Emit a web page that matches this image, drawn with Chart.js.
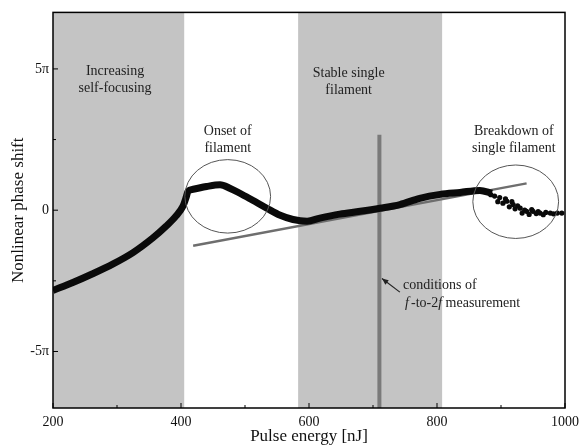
<!DOCTYPE html>
<html lang="en">
<head>
<meta charset="UTF-8">
<title>Nonlinear phase shift vs pulse energy</title>
<script src="https://cdn.jsdelivr.net/npm/chart.js"></script>
<style>
  html, body { margin: 0; padding: 0; background: #fff; }
  #wrap { width: 579px; height: 448px; }
</style>
</head>
<body>
<div id="wrap"><canvas id="phaseChart"></canvas></div>
<script>
// measured data (pulse energy in nJ, phase in units of pi)
const energy = [200, 231, 262, 294, 325, 356, 377, 392, 403, 408, 411, 419, 440, 461, 477, 492, 512, 534, 555, 575, 597, 617, 648, 680, 711, 742, 773, 805, 836, 867, 886];
const phase  = [-2.84, -2.56, -2.25, -1.9, -1.5, -0.98, -0.56, -0.21, 0.14, 0.45, 0.67, 0.74, 0.84, 0.9, 0.77, 0.6, 0.35, 0.07, -0.18, -0.33, -0.39, -0.28, -0.14, -0.04, 0.07, 0.2, 0.42, 0.56, 0.63, 0.7, 0.6];
// breakdown region, scattered points
const breakEnergy = [884, 890, 895, 898, 903, 907, 909, 913, 917, 919, 922, 926, 930, 933, 937, 940, 944, 948, 950, 955, 958, 961, 966, 970, 977, 982, 988, 995];
const breakPhase  = [0.55, 0.5, 0.3, 0.45, 0.25, 0.4, 0.32, 0.12, 0.3, 0.2, 0.05, 0.15, 0.07, -0.1, 0.0, -0.04, -0.15, 0.02, -0.04, -0.12, -0.05, -0.1, -0.16, -0.08, -0.1, -0.13, -0.1, -0.1];
// linear fit
const fitEnergy = [419, 940];
const fitPhase  = [-1.26, 0.95];
// f-to-2f measurement marker
const markerEnergy = 710;
const markerTop = 2.67;
// shaded regimes
const bandStart = [200, 583];
const bandEnd   = [405, 808];
// ellipses: centre x, centre y, radius x, radius y
const ellipseX  = [473, 923];
const ellipseY  = [0.49, 0.3];
const ellipseRX = [67, 67];
const ellipseRY = [1.3, 1.3];
// tick labels
const xTicks = [200, 400, 600, 800, 1000];
const yTicks = [-5, 0, 5];
const yTickLabels = {'-5': '-5\u03c0', '0': '0', '5': '5\u03c0'};
// annotations
const notes = [
  {x: 297, y: 4.9, lines: ['Increasing', 'self-focusing']},
  {x: 662, y: 4.85, lines: ['Stable single', 'filament']},
  {x: 473, y: 2.8, lines: ['Onset of', 'filament']},
  {x: 920, y: 2.8, lines: ['Breakdown of', 'single filament']}
];

const serif = '"Liberation Serif", "DejaVu Serif", serif';

const decorations = {
  id: 'decorations',
  beforeDatasetsDraw(chart) {
    const {ctx, chartArea: a, scales: {x, y}} = chart;
    ctx.save();
    ctx.fillStyle = '#c4c4c4';
    for (let i = 0; i < bandStart.length; i++) {
      const x0 = x.getPixelForValue(bandStart[i]);
      const x1 = x.getPixelForValue(bandEnd[i]);
      ctx.fillRect(x0, a.top, x1 - x0, a.bottom - a.top);
    }
    // f-to-2f marker line
    ctx.strokeStyle = '#7a7a7a';
    ctx.lineWidth = 4;
    ctx.beginPath();
    ctx.moveTo(x.getPixelForValue(markerEnergy), y.getPixelForValue(markerTop));
    ctx.lineTo(x.getPixelForValue(markerEnergy), a.bottom);
    ctx.stroke();
    ctx.restore();
  },
  afterDatasetsDraw(chart) {
    const {ctx, chartArea: a, scales: {x, y}} = chart;
    ctx.save();
    // ellipses
    ctx.strokeStyle = '#555';
    ctx.lineWidth = 1;
    for (let i = 0; i < ellipseX.length; i++) {
      const cx = x.getPixelForValue(ellipseX[i]);
      const cy = y.getPixelForValue(ellipseY[i]);
      const rx = x.getPixelForValue(ellipseX[i] + ellipseRX[i]) - cx;
      const ry = cy - y.getPixelForValue(ellipseY[i] + ellipseRY[i]);
      ctx.beginPath();
      ctx.ellipse(cx, cy, rx, ry, 0, 0, Math.PI * 2);
      ctx.stroke();
    }
    // text notes
    ctx.fillStyle = '#222';
    ctx.font = '14px ' + serif;
    ctx.textAlign = 'center';
    ctx.textBaseline = 'middle';
    notes.forEach(n => {
      const px = x.getPixelForValue(n.x);
      const py = y.getPixelForValue(n.y);
      n.lines.forEach((t, j) => ctx.fillText(t, px, py + j * 17));
    });
    // f-to-2f note with arrow
    ctx.textAlign = 'left';
    const tx = x.getPixelForValue(747);
    const ty = y.getPixelForValue(-2.67);
    ctx.fillText('conditions of', tx, ty);
    ctx.font = 'italic 14px ' + serif;
    ctx.fillText('f', tx + 2, ty + 18);
    let w = ctx.measureText('f').width + 2;
    ctx.font = '14px ' + serif;
    ctx.fillText('-to-2', tx + 2 + w, ty + 18);
    w += ctx.measureText('-to-2').width;
    ctx.font = 'italic 14px ' + serif;
    ctx.fillText('f', tx + 2 + w, ty + 18);
    w += ctx.measureText('f').width;
    ctx.font = '14px ' + serif;
    ctx.fillText(' measurement', tx + 2 + w, ty + 18);
    const hx = x.getPixelForValue(714), hy = y.getPixelForValue(-2.42);
    const ex = x.getPixelForValue(742), ey = y.getPixelForValue(-2.9);
    ctx.strokeStyle = '#222';
    ctx.lineWidth = 1.2;
    ctx.beginPath();
    ctx.moveTo(ex, ey);
    ctx.lineTo(hx, hy);
    ctx.stroke();
    const ang = Math.atan2(hy - ey, hx - ex);
    ctx.beginPath();
    ctx.moveTo(hx, hy);
    ctx.lineTo(hx - 7 * Math.cos(ang - 0.4), hy - 7 * Math.sin(ang - 0.4));
    ctx.lineTo(hx - 7 * Math.cos(ang + 0.4), hy - 7 * Math.sin(ang + 0.4));
    ctx.closePath();
    ctx.fill();
    // frame and inward ticks
    ctx.strokeStyle = '#000';
    ctx.lineWidth = 1.5;
    ctx.strokeRect(a.left, a.top, a.right - a.left, a.bottom - a.top);
    ctx.lineWidth = 1;
    ctx.beginPath();
    for (let v = 200; v <= 1000; v += 100) {
      const px = x.getPixelForValue(v);
      const len = v % 200 === 0 ? 5 : 3;
      ctx.moveTo(px, a.bottom); ctx.lineTo(px, a.bottom - len);
    }
    for (let v = -5; v <= 5; v += 2.5) {
      const py = y.getPixelForValue(v);
      const len = v % 5 === 0 ? 5 : 3;
      ctx.moveTo(a.left, py); ctx.lineTo(a.left + len, py);
    }
    ctx.stroke();
    ctx.restore();
  }
};

new Chart(document.getElementById('phaseChart'), {
  type: 'line',
  data: {
    datasets: [
      {
        data: energy.map((e, i) => ({x: e, y: phase[i]})),
        borderColor: '#0a0a0a',
        borderWidth: 7,
        cubicInterpolationMode: 'monotone',
        pointRadius: 0,
        fill: false
      },
      {
        data: breakEnergy.map((e, i) => ({x: e, y: breakPhase[i]})),
        showLine: false,
        pointRadius: 2.6,
        pointBackgroundColor: '#0a0a0a',
        pointBorderWidth: 0
      },
      {
        data: fitEnergy.map((e, i) => ({x: e, y: fitPhase[i]})),
        borderColor: '#6e6e6e',
        borderWidth: 2.5,
        pointRadius: 0
      }
    ]
  },
  options: {
    responsive: true,
    maintainAspectRatio: false,
    animation: false,
    layout: {padding: {top: 10, right: 0, left: 0, bottom: 0}},
    plugins: {legend: {display: false}, tooltip: {enabled: false}},
    scales: {
      x: {
        type: 'linear',
        min: 200, max: 1000,
        afterBuildTicks: s => { s.ticks = xTicks.map(v => ({value: v})); },
        afterFit: s => { s.height = 40; s.paddingRight = 14; s.paddingLeft = 0; },
        grid: {display: false, drawTicks: false},
        border: {display: false},
        ticks: {color: '#111', padding: 6, maxRotation: 0, font: {family: serif, size: 14}, callback: v => String(v)},
        title: {display: true, text: 'Pulse energy [nJ]', color: '#111', padding: {top: 0, bottom: 1}, font: {family: serif, size: 17}}
      },
      y: {
        type: 'linear',
        min: -7, max: 7,
        afterBuildTicks: s => { s.ticks = yTicks.map(v => ({value: v})); },
        afterFit: s => { s.width = 53; },
        grid: {display: false, drawTicks: false},
        border: {display: false},
        ticks: {color: '#111', padding: 4, font: {family: serif, size: 14}, callback: v => yTickLabels[String(v)]},
        title: {display: true, text: 'Nonlinear phase shift', color: '#111', padding: {top: 8, bottom: 4}, font: {family: serif, size: 17}}
      }
    }
  },
  plugins: [decorations]
});
</script>
</body>
</html>
